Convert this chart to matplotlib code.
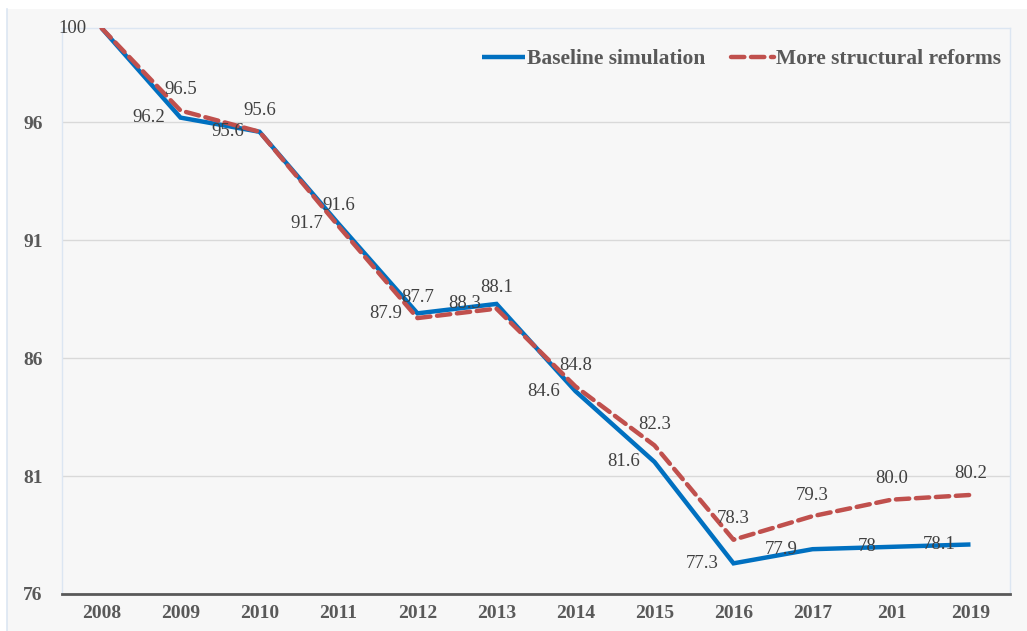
import matplotlib
matplotlib.use("Agg")
import matplotlib.pyplot as plt
from matplotlib.patches import Rectangle
from matplotlib.lines import Line2D

years = ["2008", "2009", "2010", "2011", "2012", "2013", "2014", "2015", "2016", "2017", "2018", "2019"]
tick_labels = ["2008", "2009", "2010", "2011", "2012", "2013", "2014", "2015", "2016", "2017", "201", "2019"]
baseline = [100, 96.2, 95.6, 91.7, 87.9, 88.3, 84.6, 81.6, 77.3, 77.9, 78.0, 78.1]
reforms = [100, 96.5, 95.6, 91.6, 87.7, 88.1, 84.8, 82.3, 78.3, 79.3, 80.0, 80.2]
baseline_labels = ["100", "96.2", "95.6", "91.7", "87.9", "88.3", "84.6", "81.6", "77.3", "77.9", "78", "78.1"]
reforms_labels = ["", "96.5", "95.6", "91.6", "87.7", "88.1", "84.8", "82.3", "78.3", "79.3", "80.0", "80.2"]
y_ticks = [76, 81, 86, 91, 96]
series_names = ["Baseline simulation", "More structural reforms"]

BLUE = "#0070C0"
RED = "#C0504D"
TXT = "#404040"
TICK = "#595959"
SERIF = ["Liberation Serif", "DejaVu Serif"]

W, H = 1027, 631
fig = plt.figure(figsize=(W / 100, H / 100), dpi=100, facecolor="white")

# chart area background
bg = Rectangle((7 / W, 0), 1 - 7 / W, 1 - 9 / H, transform=fig.transFigure,
               facecolor="#F7F7F7", edgecolor="none", zorder=-10)
fig.add_artist(bg)
fig.add_artist(Line2D([7 / W, 7 / W], [0, 1 - 9 / H], transform=fig.transFigure,
                      color="#DCE6F2", lw=1.2, zorder=-9))

ax = fig.add_axes([62 / W, 1 - 594 / H, (1010 - 62) / W, (594 - 28) / H])
ax.set_facecolor("#F7F7F7")
x = list(range(len(years)))

ax.plot(x, baseline, color=BLUE, lw=3.2, solid_capstyle="butt", solid_joinstyle="miter", zorder=3,
        label=series_names[0])
ax.plot(x, reforms, color=RED, lw=3.2, linestyle=(0, (3.0, 1.5)), dash_capstyle="round", zorder=4,
        label=series_names[1])

ax.set_xlim(-0.5, len(years) - 0.5)
ax.set_ylim(76, 100)
ax.set_yticks(y_ticks)
ax.set_xticks(x)
ax.set_xticklabels(tick_labels)
ax.yaxis.grid(True, color="#D9D9D9", lw=1.0)
ax.set_axisbelow(True)
ax.tick_params(axis="both", length=0)
ax.tick_params(axis="y", pad=14)
ax.tick_params(axis="x", pad=8)
for lab in ax.get_xticklabels() + ax.get_yticklabels():
    lab.set_fontfamily(SERIF)
    lab.set_fontweight("bold")
    lab.set_fontsize(14)
    lab.set_color(TICK)

for s in ["left", "top", "right"]:
    ax.spines[s].set_color("#DCE6F2")
    ax.spines[s].set_linewidth(1.0)
ax.spines["bottom"].set_color("#595959")
ax.spines["bottom"].set_linewidth(2.0)

for xi, v, t in zip(x, baseline, baseline_labels):
    ax.annotate(t, (xi, v), xytext=(-15, 0), textcoords="offset pixels", ha="right", va="center",
                fontsize=13.5, color=TXT, family=SERIF, zorder=5)
for xi, v, t in zip(x, reforms, reforms_labels):
    if t:
        ax.annotate(t, (xi, v), xytext=(0, 21), textcoords="offset pixels", ha="center", va="center",
                    fontsize=13.5, color=TXT, family=SERIF, zorder=5)

leg = ax.legend(loc="upper right", bbox_to_anchor=(1.0, 0.978), ncol=2, frameon=False,
                prop={"family": SERIF, "weight": "bold", "size": 15.5}, handlelength=2.0,
                handletextpad=0.1, columnspacing=1.2, borderaxespad=0.0)
for t in leg.get_texts():
    t.set_color(TICK)

fig.savefig("out.png", dpi=100, facecolor="white")
